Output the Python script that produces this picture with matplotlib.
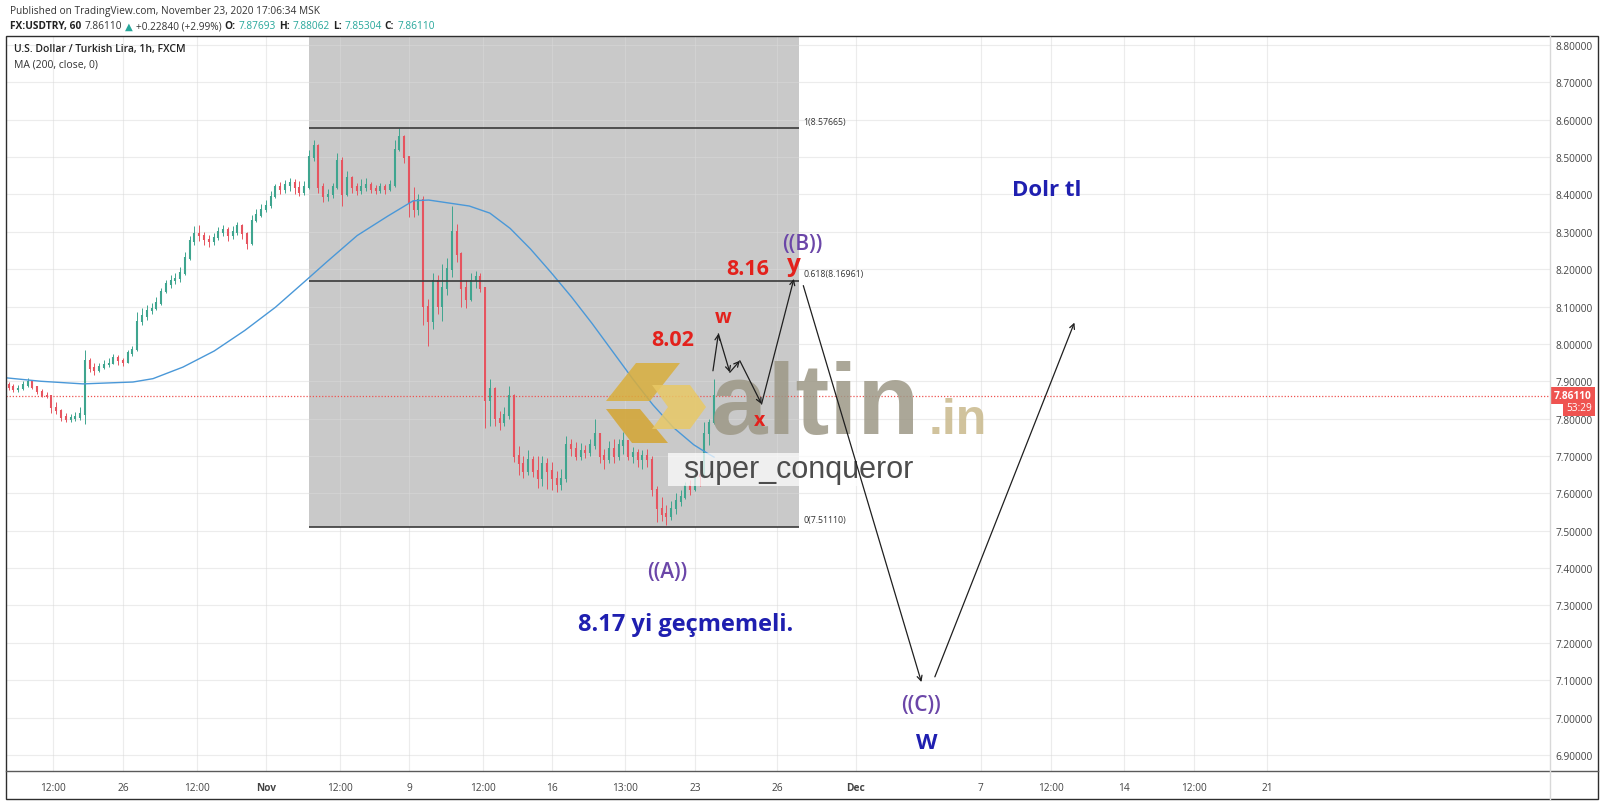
import numpy as np
import matplotlib
matplotlib.use("Agg")
import matplotlib.pyplot as plt
from matplotlib.patches import Rectangle, Polygon
from matplotlib.transforms import Affine2D, IdentityTransform, blended_transform_factory

plt.rcParams['font.family'] = ['Open Sans', 'DejaVu Sans']

# ---- USDTRY 4h bars, x = trading days counted from Mon 26 Oct 2020 ----
bar_start = -4.0
bar_step = 1 / 6
first_open = 7.890
close = [7.885, 7.878, 7.880, 7.890, 7.900, 7.885, 7.872, 7.862, 7.860, 7.830,
         7.822, 7.805, 7.798, 7.802, 7.805, 7.812, 7.955, 7.935, 7.930, 7.938,
         7.945, 7.948, 7.962, 7.955, 7.950, 7.975, 7.985, 8.060, 8.075, 8.090,
         8.095, 8.110, 8.140, 8.160, 8.170, 8.175, 8.190, 8.230, 8.275, 8.295,
         8.290, 8.280, 8.275, 8.285, 8.300, 8.305, 8.290, 8.300, 8.315, 8.295,
         8.270, 8.330, 8.345, 8.360, 8.370, 8.395, 8.420, 8.415, 8.425, 8.430,
         8.418, 8.405, 8.420, 8.500, 8.530, 8.420, 8.395, 8.400, 8.420, 8.490,
         8.400, 8.445, 8.420, 8.410, 8.420, 8.425, 8.415, 8.410, 8.420, 8.415,
         8.425, 8.520, 8.555, 8.500, 8.380, 8.360, 8.385, 8.100, 8.060, 8.170,
         8.100, 8.150, 8.200, 8.300, 8.240, 8.150, 8.120, 8.170, 8.180, 8.150,
         7.850, 7.880, 7.800, 7.790, 7.810, 7.860, 7.700, 7.680, 7.660, 7.690,
         7.660, 7.640, 7.680, 7.660, 7.640, 7.625, 7.640, 7.730, 7.720, 7.700,
         7.715, 7.710, 7.730, 7.760, 7.700, 7.690, 7.720, 7.700, 7.730, 7.740,
         7.700, 7.710, 7.690, 7.700, 7.690, 7.610, 7.560, 7.545, 7.540, 7.560,
         7.580, 7.590, 7.620, 7.610, 7.650, 7.645, 7.760, 7.790, 7.861]
high = [7.898, 7.892, 7.890, 7.900, 7.908, 7.903, 7.888, 7.878, 7.870, 7.862,
        7.845, 7.825, 7.815, 7.812, 7.818, 7.830, 7.985, 7.962, 7.948, 7.950,
        7.956, 7.962, 7.972, 7.970, 7.962, 7.985, 7.995, 8.085, 8.095, 8.105,
        8.110, 8.125, 8.150, 8.170, 8.185, 8.190, 8.205, 8.245, 8.290, 8.315,
        8.318, 8.300, 8.292, 8.298, 8.312, 8.318, 8.312, 8.315, 8.325, 8.320,
        8.300, 8.345, 8.360, 8.375, 8.385, 8.410, 8.428, 8.432, 8.438, 8.445,
        8.440, 8.435, 8.435, 8.520, 8.545, 8.535, 8.430, 8.415, 8.430, 8.510,
        8.500, 8.462, 8.450, 8.430, 8.440, 8.445, 8.432, 8.425, 8.430, 8.428,
        8.438, 8.545, 8.577, 8.560, 8.500, 8.420, 8.400, 8.395, 8.120, 8.190,
        8.185, 8.215, 8.230, 8.370, 8.320, 8.245, 8.170, 8.190, 8.195, 8.190,
        8.150, 7.906, 7.885, 7.820, 7.830, 7.888, 7.865, 7.727, 7.700, 7.715,
        7.700, 7.700, 7.700, 7.695, 7.684, 7.660, 7.665, 7.754, 7.745, 7.737,
        7.735, 7.730, 7.745, 7.800, 7.760, 7.720, 7.740, 7.745, 7.745, 7.764,
        7.740, 7.725, 7.720, 7.715, 7.720, 7.700, 7.620, 7.590, 7.570, 7.580,
        7.600, 7.610, 7.630, 7.635, 7.660, 7.665, 7.790, 7.800, 7.905]
low = [7.876, 7.870, 7.871, 7.876, 7.885, 7.880, 7.866, 7.858, 7.855, 7.815,
       7.812, 7.795, 7.790, 7.792, 7.795, 7.796, 7.786, 7.925, 7.918, 7.925,
       7.932, 7.938, 7.945, 7.944, 7.940, 7.950, 7.968, 7.980, 8.050, 8.065,
       8.080, 8.090, 8.105, 8.135, 8.150, 8.160, 8.165, 8.185, 8.225, 8.265,
       8.275, 8.265, 8.258, 8.265, 8.278, 8.288, 8.275, 8.282, 8.292, 8.280,
       8.255, 8.265, 8.325, 8.340, 8.352, 8.365, 8.390, 8.400, 8.405, 8.410,
       8.400, 8.396, 8.398, 8.415, 8.490, 8.405, 8.380, 8.382, 8.390, 8.415,
       8.370, 8.395, 8.405, 8.398, 8.402, 8.410, 8.405, 8.400, 8.405, 8.402,
       8.408, 8.420, 8.515, 8.485, 8.340, 8.340, 8.345, 8.050, 7.995, 8.040,
       8.080, 8.060, 8.130, 8.180, 8.220, 8.100, 8.095, 8.115, 8.150, 8.140,
       7.775, 7.780, 7.780, 7.770, 7.780, 7.800, 7.684, 7.650, 7.640, 7.650,
       7.645, 7.615, 7.620, 7.612, 7.610, 7.604, 7.610, 7.630, 7.700, 7.690,
       7.690, 7.695, 7.700, 7.720, 7.680, 7.665, 7.680, 7.680, 7.690, 7.705,
       7.690, 7.680, 7.670, 7.665, 7.670, 7.593, 7.524, 7.525, 7.515, 7.530,
       7.545, 7.565, 7.585, 7.595, 7.605, 7.620, 7.640, 7.730, 7.785]
last_price = 7.86110

# MA(200)
ma_day = [-4.06, -2.87, -1.40, 0.35, 1.05, 2.10, 3.19, 4.26, 5.33, 6.40, 7.12, 8.19,
          9.26, 10.15, 10.69, 11.40, 12.11, 12.83, 13.54, 14.25, 14.97, 15.68, 16.40,
          17.11, 17.82, 18.53, 19.25, 19.96, 20.42, 20.67]
ma_val = [7.909, 7.900, 7.893, 7.898, 7.907, 7.938, 7.981, 8.036, 8.098, 8.170, 8.219, 8.290,
          8.342, 8.383, 8.385, 8.377, 8.369, 8.350, 8.309, 8.254, 8.191, 8.126, 8.055,
          7.981, 7.907, 7.837, 7.776, 7.730, 7.708, 7.697]

# fibonacci retracement box
fib_left, fib_right = 6.50, 23.64
fib_levels = [8.57665, 8.16961, 7.51110]
fib_names = ['1(8.57665)', '0.618(8.16961)', '0(7.51110)']

# drawn wave path (w-x-y) and projection to ((C))
wxy_day = [20.63, 20.82, 21.22, 21.57, 22.33, 23.46]
wxy_val = [7.928, 8.027, 7.924, 7.955, 7.839, 8.174]
down_day = [23.79, 27.92]
down_val = [8.156, 7.095]
up_day = [28.39, 33.27]
up_val = [7.109, 8.057]

# time axis
tick_days = [-2.45, 0, 2.59, 5, 7.59, 10, 12.59, 15, 17.55, 20, 22.87, 25.63,
             30, 32.45, 35, 37.45, 40]
tick_text = ['12:00', '26', '12:00', 'Nov', '12:00', '9', '12:00', '16', '13:00', '23',
             '26', 'Dec', '7', '12:00', '14', '12:00', '21']
price_ticks = [round(6.9 + 0.1 * k, 1) for k in range(20)]

UP, DOWN = '#3fa58f', '#e6545f'
RED, BLUE, PURPLE = '#e3211c', '#1f1fb0', '#6b46a8'

fig = plt.figure(figsize=(16, 8.04), dpi=100)
px = Affine2D().scale(1, -1).translate(0, 804)   # figure pixels, origin top-left

ax = fig.add_axes([6 / 1600, 32 / 804, 1544 / 1600, 735 / 804])
ax.set_xlim(-4.09, 49.9)
ax.set_ylim(6.857, 8.824)
ax.set_autoscale_on(False)
for s in ax.spines.values():
    s.set_visible(False)

# gray rectangle + grid
ax.add_patch(Rectangle((fib_left, fib_levels[2]), fib_right - fib_left, 2.0,
                       fc='#c9c9c9', ec='none', zorder=1))
for v in price_ticks:
    ax.axhline(v, color='#dadada', alpha=0.5, lw=0.8, zorder=1.5)
for t in tick_days:
    ax.axvline(t, color='#dadada', alpha=0.5, lw=0.8, zorder=1.5)

# candles
close = np.array(close)
high = np.array(high)
low = np.array(low)
xb = bar_start + np.arange(len(close)) * bar_step
opens = np.r_[first_open, close[:-1]]
cols = np.where(close >= opens, UP, DOWN)
ax.vlines(xb, low, high, colors=cols, lw=0.7, zorder=3)
ax.vlines(xb, np.minimum(opens, close) - 0.002, np.maximum(opens, close) + 0.002,
          colors=cols, lw=1.5, zorder=3)

ax.plot(ma_day, ma_val, color='#4a98d8', lw=1.0, zorder=3.5)
ax.axhline(last_price, color='#ef5350', lw=0.9, ls=(0, (1, 1.5)), zorder=2.5)

# fib lines
ax.hlines(fib_levels, fib_left, fib_right, color='#3a3a3a', lw=1.2, zorder=4)
for lv, nm in zip(fib_levels, fib_names):
    ax.annotate(nm, (fib_right, lv), xytext=(3, 5), textcoords='offset points',
                fontsize=6.3, color='#333333', va='center', ha='left', zorder=4)

# watermark
logo_parts = [([(636, 364), (680, 364), (650, 402), (606, 402)], '#d9ae3c'),
              ([(606, 410), (640, 410), (668, 444), (632, 444)], '#d4a532'),
              ([(652, 386), (690, 386), (706, 408), (690, 430), (652, 430), (668, 408)], '#e8c865')]
for pts, c in logo_parts:
    ax.add_patch(Polygon(pts, closed=True, transform=px, fc=c, ec='none', alpha=0.85,
                         zorder=5, clip_on=False))
ax.text(711, 434, 'altin', transform=px, family='Liberation Sans', fontsize=73,
        fontweight='bold', color='#9d9886', alpha=0.85, va='baseline', ha='left', zorder=5)
ax.text(929, 434, '.in', transform=px, family='Liberation Sans', fontsize=36,
        fontweight='bold', color='#c9b98c', alpha=0.85, va='baseline', ha='left', zorder=5)
ax.add_patch(Rectangle((668, 454), 262, 33, transform=px, fc='white', ec='none',
                       alpha=0.72, zorder=5, clip_on=False))
ax.text(683, 478, 'super_conqueror', transform=px, family='Liberation Sans', fontsize=22,
        color='#4d4d4d', va='baseline', ha='left', zorder=5.1)

# wave drawings
def arrow(p0, p1):
    ax.annotate('', xy=p1, xytext=p0, zorder=7,
                arrowprops=dict(arrowstyle='->', color='#1f1f1f', lw=0.9,
                                shrinkA=0, shrinkB=0, mutation_scale=9))

for k in range(len(wxy_day) - 1):
    arrow((wxy_day[k], wxy_val[k]), (wxy_day[k + 1], wxy_val[k + 1]))
arrow((down_day[0], down_val[0]), (down_day[1], down_val[1]))
arrow((up_day[0], up_val[0]), (up_day[1], up_val[1]))

labels = [('Dolr tl', 32.31, 8.412, BLUE, 16, 'bold'),
          ('8.17 yi geçmemeli.', 19.69, 7.251, BLUE, 17, 'bold'),
          ('((A))', 19.02, 7.390, PURPLE, 15, 'semibold'),
          ('((B))', 23.74, 8.270, PURPLE, 15, 'semibold'),
          ('((C))', 27.90, 7.034, PURPLE, 15, 'semibold'),
          ('W', 28.11, 6.932, BLUE, 16, 'bold'),
          ('8.16', 21.85, 8.201, RED, 15.5, 'bold'),
          ('8.02', 19.23, 8.011, RED, 15.5, 'bold'),
          ('y', 23.46, 8.214, RED, 17.5, 'bold'),
          ('w', 21.00, 8.072, RED, 14, 'bold'),
          ('x', 22.27, 7.797, RED, 14, 'bold')]
for txt, d, p, c, fs, fw in labels:
    ax.text(d, p, txt, color=c, fontsize=fs, fontweight=fw, ha='center', va='center', zorder=8)

# axes ticks
ax.yaxis.tick_right()
ax.set_yticks(price_ticks, [f'{v:.5f}' for v in price_ticks])
ax.tick_params(axis='y', length=0, pad=4, labelsize=7.3, labelcolor='#444444')
ax.set_xticks(tick_days, tick_text)
ax.tick_params(axis='x', length=0, pad=8, labelsize=7.3, labelcolor='#444444')
for lb in ax.get_xticklabels():
    if lb.get_text() in ('Nov', 'Dec'):
        lb.set_fontweight('bold')

# last price tags
blend = blended_transform_factory(IdentityTransform(), ax.transData)
ax.text(1554, last_price, '7.86110', transform=blend, color='white', fontsize=7.3,
        fontweight='bold', va='center', ha='left', zorder=10, clip_on=False,
        bbox=dict(boxstyle='square,pad=0.3', fc='#ef5350', ec='none'))
ax.text(1566, last_price - 12 / 373.7, '53:29', transform=blend, color='white', fontsize=7.3,
        va='center', ha='left', zorder=10, clip_on=False,
        bbox=dict(boxstyle='square,pad=0.3', fc='#ef5350', ec='none'))

# frame
fig.add_artist(Rectangle((6, 37), 1592, 763, transform=px, fill=False, ec='#2e2e2e', lw=1))
fig.add_artist(plt.Line2D([6, 1598], [772, 772], transform=px, color='#5a5a5a', lw=1))
fig.add_artist(plt.Line2D([1550, 1550], [37, 800], transform=px, color='#d8d8d8', lw=1))

# header text
renderer = fig.canvas.get_renderer()

def text_row(x, y, pieces, size):
    for txt, c, w in pieces:
        t = fig.text(x, y, txt, transform=px, fontsize=size, color=c, fontweight=w,
                     va='center', ha='left')
        x = t.get_window_extent(renderer).x1 + 3

text_row(10, 12, [('Published on TradingView.com, November 23, 2020 17:06:34 MSK', '#333333', 'normal')], 7.3)
teal = '#26a69a'
text_row(10, 27, [('FX:USDTRY, 60', '#222222', 'bold'), ('7.86110', '#333333', 'normal'),
                  ('▲', teal, 'normal'), ('+0.22840 (+2.99%)', '#333333', 'normal'),
                  ('O:', '#222222', 'bold'), ('7.87693', teal, 'normal'),
                  ('H:', '#222222', 'bold'), ('7.88062', teal, 'normal'),
                  ('L:', '#222222', 'bold'), ('7.85304', teal, 'normal'),
                  ('C:', '#222222', 'bold'), ('7.86110', teal, 'normal')], 7.3)
fig.text(14, 50, 'U.S. Dollar / Turkish Lira, 1h, FXCM', transform=px, fontsize=7.5,
         fontweight='semibold', color='#222222', va='center')
fig.text(14, 65, 'MA (200, close, 0)', transform=px, fontsize=7.5, color='#333333', va='center')

fig.savefig('out.png', dpi=100)
